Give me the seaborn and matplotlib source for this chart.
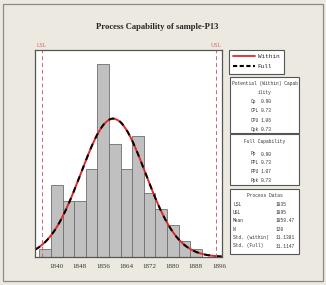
import numpy as np
import seaborn as sns
import matplotlib.pyplot as plt
from matplotlib.patches import Rectangle
from matplotlib.lines import Line2D

# histogram data (bin centres, counts), bins of width 4
bin_centers = [1836, 1840, 1844, 1848, 1852, 1856, 1860, 1864, 1868, 1872, 1876, 1880, 1884, 1888]
counts = [1, 9, 7, 7, 11, 24, 14, 11, 15, 8, 6, 4, 2, 1]
bin_edges = list(range(1834, 1891, 4))

lsl, usl = 1835, 1895
mean = 1859.47
n = 120
std_within = 11.1381
std_full = 11.1147
x_ticks = [1840, 1848, 1856, 1864, 1872, 1880, 1888, 1896]

potential_rows = [("Cp", "0.90"), ("CPL", "0.73"), ("CPU", "1.06"), ("Cpk", "0.73")]
full_rows = [("Pp", "0.90"), ("PPL", "0.73"), ("PPU", "1.07"), ("Ppk", "0.73")]
data_rows = [("LSL", "1835"), ("USL", "1895"), ("Mean", "1859.47"), ("N", "120"),
             ("Std. (within)", "11.1381"), ("Std. (Full)", "11.1147")]

sns.set_style("white")
bg = "#ECE9E0"
W, H = 326, 285
fig = plt.figure(figsize=(W / 100, H / 100), dpi=100, facecolor=bg)
fig.patches.append(Rectangle((3 / W, 4 / H), 320 / W, 277 / H, transform=fig.transFigure,
                             fill=False, edgecolor="#8A8A8A", lw=0.9))

ax = fig.add_axes([35 / W, 1 - 257 / H, 187 / W, 207 / H])
ax.set_facecolor("white")
sns.histplot(x=bin_centers, weights=counts, bins=bin_edges, ax=ax,
             color="#C0C0C0", edgecolor="#6E6E6E", linewidth=0.6, alpha=1)

xs = np.linspace(1832.5, 1897, 300)
binw = 4
pdf_w = n * binw / (std_within * np.sqrt(2 * np.pi)) * np.exp(-0.5 * ((xs - mean) / std_within) ** 2)
pdf_f = n * binw / (std_full * np.sqrt(2 * np.pi)) * np.exp(-0.5 * ((xs - mean) / std_full) ** 2)
sns.lineplot(x=xs, y=pdf_w, ax=ax, color="#E02828", lw=1.4)
sns.lineplot(x=xs, y=pdf_f, ax=ax, color="black", lw=1.4, linestyle=(0, (3, 3)))

for v, lab in [(lsl, "LSL"), (usl, "USL")]:
    ax.axvline(v, color="#D86070", lw=0.7, linestyle=(0, (4, 3)))
    ax.text(v, 25.75 * 1.01, lab, ha="center", va="bottom", fontsize=4.2,
            color="#D86070", family="Liberation Serif")

ax.set_xlim(1832.5, 1897)
ax.set_ylim(0, 25.75)
ax.set_yticks([])
ax.set_xticks(x_ticks)
ax.set_xticklabels([str(t) for t in x_ticks], fontsize=5, family="Liberation Serif",
                   color="#333333")
ax.tick_params(axis="x", direction="out", length=2.5, width=0.5, pad=2.5, color="#555555")
ax.set_xlabel("")
ax.set_ylabel("")
for s in ax.spines.values():
    s.set_color("#555555")
    s.set_linewidth(0.9)

fig.text(157 / W, 1 - 27 / H, "Process Capability of sample-P13", ha="center", va="center",
         fontsize=6.2, fontweight="bold", family="Liberation Serif")

# legend
handles = [Line2D([], [], color="#E02828", lw=1.3),
           Line2D([], [], color="black", lw=1.5, linestyle=(0, (2, 1.2)))]
leg = fig.legend(handles, ["Within", "Full"], loc="upper left",
                 bbox_to_anchor=(229 / W, 1 - 50 / H), prop={"family": "Liberation Mono", "size": 4.3},
                 frameon=True, fancybox=False, handlelength=3.6, borderpad=0.7,
                 labelspacing=0.8, handletextpad=0.5, borderaxespad=0)
leg.get_frame().set_edgecolor("#555555")
leg.get_frame().set_linewidth(0.8)
leg.get_frame().set_alpha(1)


def box(x0, y0, x1, y1):
    fig.patches.append(Rectangle((x0 / W, 1 - y1 / H), (x1 - x0) / W, (y1 - y0) / H,
                                 transform=fig.transFigure, facecolor="white",
                                 edgecolor="#555555", lw=0.8))


def txt(x, y, s, ha="left"):
    fig.text(x / W, 1 - y / H, s, ha=ha, va="center", fontsize=3.3, family="Liberation Mono",
             color="#333333")


box(230, 77, 299, 133)
txt(264.5, 83.5, "Potential (Within) Capab", ha="center")
txt(264.5, 92.5, "ility", ha="center")
for i, (k, v) in enumerate(potential_rows):
    txt(251, 101.5 + i * 9.3, k)
    txt(261, 101.5 + i * 9.3, v)

box(230, 134, 299, 185)
txt(264.5, 141.7, "Full Capability", ha="center")
for i, (k, v) in enumerate(full_rows):
    txt(251, 154 + i * 8.9, k)
    txt(261, 154 + i * 8.9, v)

box(230, 189, 299, 254)
txt(264.5, 195.7, "Process Datas", ha="center")
for i, (k, v) in enumerate(data_rows):
    txt(233, 204 + i * 8.4, k)
    txt(276, 204 + i * 8.4, v)

fig.savefig("out.png", dpi=100, facecolor=bg)
